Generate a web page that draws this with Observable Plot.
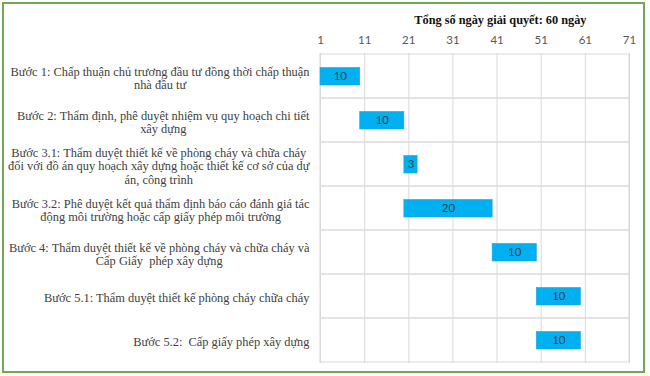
<!DOCTYPE html>
<html>
<head>
<meta charset="utf-8">
<script src="https://cdn.jsdelivr.net/npm/d3@7"></script>
<script src="https://cdn.jsdelivr.net/npm/@observablehq/plot@0.6"></script>
<style>
  body { margin: 0; background: #fff; }
  #wrap { position: relative; width: 650px; height: 376px; overflow: hidden; }
  #frame { position: absolute; left: 2px; top: 2px; width: 643px; height: 371px; box-sizing: border-box; border: 2px solid #72a852; pointer-events: none; }
</style>
</head>
<body>
<div id="wrap"><div id="frame"></div></div>
<script>
// ---- data ----
const steps = [
  "Bước 1: Chấp thuận chủ trương đầu tư đồng thời chấp thuận\nnhà đầu tư",
  "Bước 2: Thẩm định, phê duyệt nhiệm vụ quy hoạch chi tiết\nxây dựng",
  "Bước 3.1: Thẩm duyệt thiết kế về phòng cháy và chữa cháy\nđối với đồ án quy hoạch xây dựng hoặc thiết kế cơ sở của dự\nán, công trình",
  "Bước 3.2: Phê duyệt kết quả thẩm định báo cáo đánh giá tác\nđộng môi trường hoặc cấp giấy phép môi trường",
  "Bước 4: Thẩm duyệt thiết kế về phòng cháy và chữa cháy và\nCấp Giấy  phép xây dựng",
  "Bước 5.1: Thẩm duyệt thiết kế phòng cháy chữa cháy",
  "Bước 5.2:  Cấp giấy phép xây dựng"
];
const starts = [0, 10, 20, 20, 40, 50, 50];
const durations = [10, 10, 3, 20, 10, 10, 10];
const xTicks = [1, 11, 21, 31, 41, 51, 61, 71];
const title = "Tổng số ngày giải quyết: 60 ngày";

// ---- build ----
const xMin = xTicks[0], xMax = xTicks[xTicks.length - 1];
const rows = steps.map((s, i) => ({
  step: s, start: starts[i], end: starts[i] + durations[i], dur: durations[i],
  mid: (Math.max(starts[i], xMin) + starts[i] + durations[i]) / 2
}));

const chart = Plot.plot({
  width: 650, height: 376,
  marginLeft: 320, marginRight: 21, marginTop: 53, marginBottom: 13,
  style: { background: "transparent", overflow: "visible" },
  x: { domain: [xMin, xMax], clamp: true, axis: null },
  y: { domain: steps, padding: 0, axis: null },
  marks: [
    Plot.ruleX(xTicks, { stroke: "#d9d9d9", strokeWidth: 1 }),
    Plot.rect(rows, { y: "step", x1: xMin, x2: xMax, fill: "none", stroke: "#d9d9d9", strokeWidth: 1 }),
    Plot.axisX({ anchor: "top", ticks: xTicks, tickSize: 0, tickPadding: 10, tickFormat: d => String(d),
      fontFamily: "Lato", fontSize: 11.5, fill: "#595959", label: null }),
    Plot.barX(rows, { y: "step", x1: "start", x2: "end", fill: "#00b0f0", stroke: "#1ea6da", strokeWidth: 0.6,
      insetTop: 13.5, insetBottom: 13 }),
    Plot.text(rows, { y: "step", x: "mid", text: d => String(d.dur), fontFamily: "Lato", fontSize: 11.5, fill: "#404040" }),
    Plot.text(steps, { y: d => d, text: d => d, frameAnchor: "left", textAnchor: "end", dx: -11, dy: 1.5,
      lineHeight: 1.08, fontFamily: "Liberation Serif", fontSize: 12.4, fill: "#404040", className: "steplabels" }),
    Plot.text([title], { frameAnchor: "top-right", textAnchor: "end", dx: -43, dy: -38, text: d => d,
      fontFamily: "Liberation Serif", fontWeight: "bold", fontSize: 12.3, fill: "#111" })
  ]
});
document.getElementById("wrap").prepend(chart);

// centre each line within its right-aligned block (Excel-style wrapping)
chart.querySelectorAll("g.steplabels text").forEach(t => {
  const spans = [...t.querySelectorAll("tspan")];
  if (spans.length < 2) return;
  const widths = spans.map(s => s.getComputedTextLength());
  const maxW = Math.max(...widths);
  spans.forEach((s, i) => s.setAttribute("x", -(maxW - widths[i]) / 2));
});
</script>
</body>
</html>
